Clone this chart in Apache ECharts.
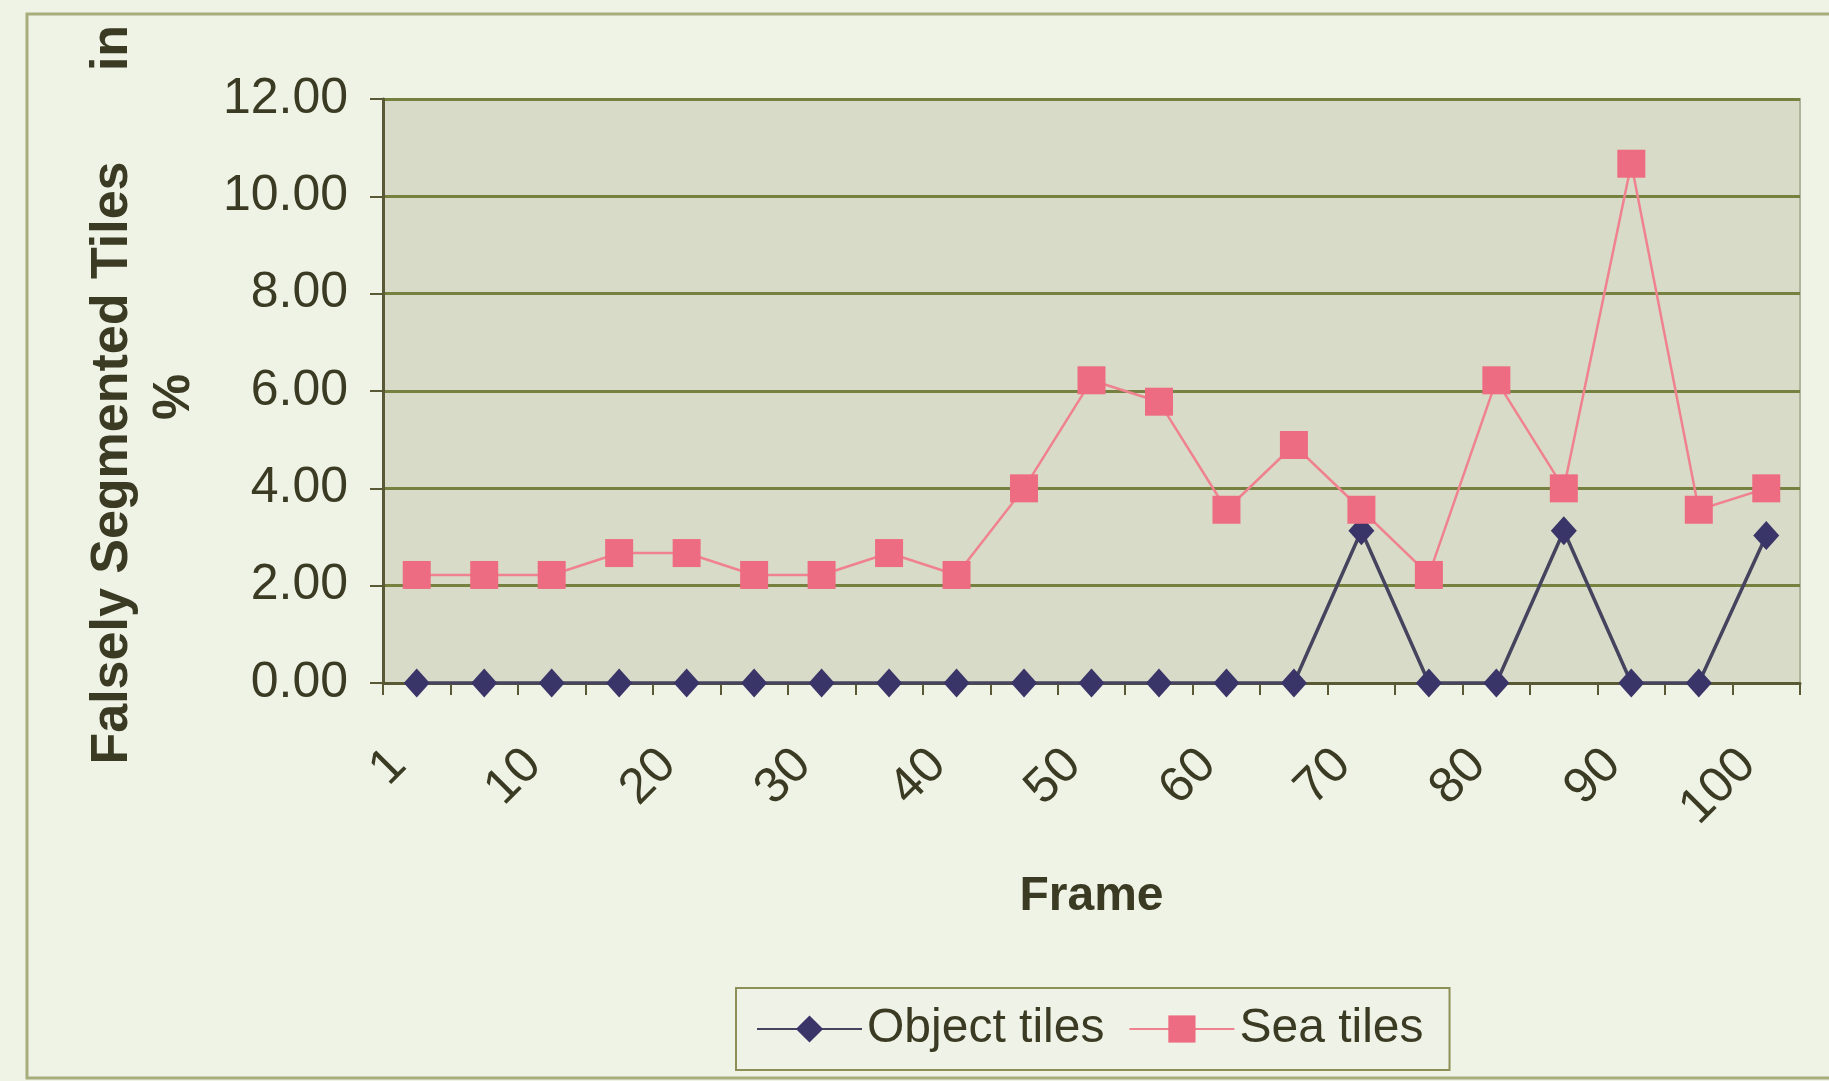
<!DOCTYPE html>
<html>
<head>
<meta charset="utf-8">
<title>Falsely Segmented Tiles</title>
<script src="https://cdn.jsdelivr.net/npm/echarts@6/dist/echarts.min.js"></script>
<style>
  html, body { margin: 0; padding: 0; background: #eef3e6; }
  #chart { width: 1829px; height: 1081px; }
</style>
</head>
<body>
<div id="chart"></div>
<script>
// Frame numbers on the category axis (every other one is labelled)
const frames = ['1', '5', '10', '15', '20', '25', '30', '35', '40', '45', '50',
                '55', '60', '65', '70', '75', '80', '85', '90', '95', '100'];

// Percentage of falsely segmented object tiles per frame
const objectTiles = [0, 0, 0, 0, 0, 0, 0, 0, 0, 0, 0,
                     0, 0, 0, 3.13, 0, 0, 3.13, 0, 0, 3.03];

// Percentage of falsely segmented sea tiles per frame
const seaTiles = [2.22, 2.22, 2.22, 2.67, 2.67, 2.22, 2.22, 2.67, 2.22, 4.00, 6.22,
                  5.78, 3.56, 4.89, 3.56, 2.22, 6.22, 4.00, 10.67, 3.56, 4.00];

// Value axis range
const yMin = 0;
const yMax = 12;
const yStep = 2;

const FONT = '"Liberation Sans", Arial, sans-serif';
const TEXT = '#3b3b24';
const AXIS = '#5a5936';
const GRIDLINE = '#77813f';
const TITLE_FONT = 'bold 52px "Liberation Sans", Arial, sans-serif';

const chart = echarts.init(document.getElementById('chart'), null, { renderer: 'canvas' });

chart.setOption({
  backgroundColor: '#eef3e6',
  animation: false,
  textStyle: { fontFamily: FONT },
  grid: {
    left: 383, right: 29, top: 99, bottom: 398,
    show: true,
    backgroundColor: '#d7dbc7',
    borderColor: '#b0b39a',
    borderWidth: 2
  },
  legend: {
    left: 736, top: 988,
    padding: [17, 26, 17, 20],
    itemGap: 24,
    itemWidth: 105,
    itemHeight: 34,
    borderColor: '#8d8f56',
    borderWidth: 2,
    backgroundColor: '#eff3e7',
    textStyle: { fontSize: 48, color: TEXT, fontFamily: FONT },
    data: ['Object tiles', 'Sea tiles']
  },
  xAxis: {
    type: 'category',
    data: frames,
    boundaryGap: true,
    name: 'Frame',
    nameLocation: 'middle',
    nameGap: 190,
    nameTextStyle: { fontSize: 48, fontWeight: 'bold', color: TEXT, fontFamily: FONT },
    axisLine: { show: true, lineStyle: { color: AXIS, width: 3 } },
    axisTick: { show: true, interval: 0, length: 12, lineStyle: { color: AXIS, width: 2 } },
    axisLabel: {
      interval: 1,
      rotate: 45,
      margin: 56,
      padding: [0, 26, 0, 0],
      fontSize: 50,
      color: TEXT,
      fontFamily: FONT
    },
    splitLine: { show: false }
  },
  yAxis: {
    type: 'value',
    min: yMin, max: yMax, interval: yStep,
    axisLine: { show: true, lineStyle: { color: AXIS, width: 3 } },
    axisTick: { show: true, length: 13, lineStyle: { color: AXIS, width: 2 } },
    axisLabel: {
      margin: 35,
      fontSize: 50,
      color: TEXT,
      fontFamily: FONT,
      formatter: v => v.toFixed(2)
    },
    splitLine: { show: true, lineStyle: { color: GRIDLINE, width: 3 } }
  },
  series: [
    {
      name: 'Object tiles',
      type: 'line',
      data: objectTiles,
      symbol: 'diamond',
      symbolSize: [26, 29],
      lineStyle: { color: '#45435e', width: 3.5 },
      itemStyle: { color: '#3a3568' },
      z: 2
    },
    {
      name: 'Sea tiles',
      type: 'line',
      data: seaTiles,
      symbol: 'rect',
      symbolSize: 28,
      lineStyle: { color: '#f0828f', width: 2.5 },
      itemStyle: { color: '#ee6c81' },
      z: 3
    }
  ],
  graphic: [
    {
      type: 'rect',
      silent: true,
      z: -10,
      shape: { x: 27, y: 14, width: 1830, height: 1064 },
      style: { fill: 'none', stroke: '#a8ad7c', lineWidth: 3 }
    },
    {
      type: 'text',
      x: 113, y: 463,
      rotation: Math.PI / 2,
      style: {
        text: 'Falsely Segmented Tiles',
        font: TITLE_FONT,
        fill: TEXT,
        textAlign: 'center',
        textVerticalAlign: 'middle'
      }
    },
    {
      type: 'text',
      x: 113, y: 48,
      rotation: Math.PI / 2,
      style: {
        text: 'in',
        font: TITLE_FONT,
        fill: TEXT,
        textAlign: 'center',
        textVerticalAlign: 'middle'
      }
    },
    {
      type: 'text',
      x: 175, y: 397,
      rotation: Math.PI / 2,
      style: {
        text: '%',
        font: TITLE_FONT,
        fill: TEXT,
        textAlign: 'center',
        textVerticalAlign: 'middle'
      }
    }
  ]
});
</script>
</body>
</html>
